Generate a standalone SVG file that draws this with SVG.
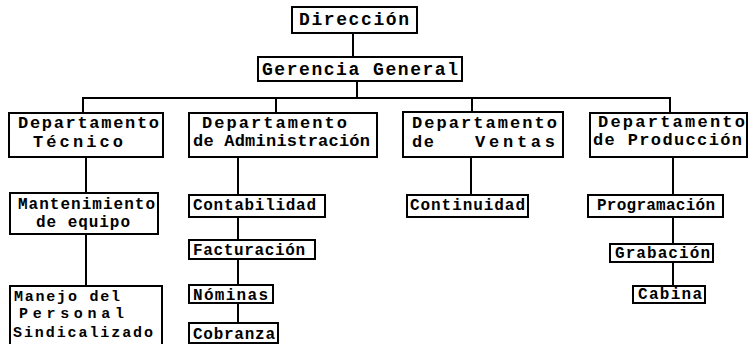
<svg xmlns="http://www.w3.org/2000/svg" width="749" height="344" viewBox="0 0 749 344">
<style>
rect{fill:#fff;stroke:#000;stroke-width:2}
.c line{stroke:#000;stroke-width:2}
text{font-family:"Liberation Mono","DejaVu Sans Mono",monospace;fill:#000;font-weight:bold}
.a{font-size:18px}
.d{font-size:17px}
.b{font-size:16px}
.e{font-size:15px}
</style>
<rect x="0" y="0" width="749" height="344" style="stroke:none"/>
<g class="c">
<line x1="353" y1="33" x2="353" y2="57"/>
<line x1="357" y1="81" x2="357" y2="98"/>
<line x1="82" y1="98" x2="671" y2="98"/>
<line x1="83" y1="98" x2="83" y2="113"/>
<line x1="276" y1="98" x2="276" y2="113"/>
<line x1="472" y1="98" x2="472" y2="112"/>
<line x1="670" y1="98" x2="670" y2="113"/>
<line x1="86" y1="157" x2="86" y2="193"/>
<line x1="86" y1="234" x2="86" y2="286"/>
<line x1="238" y1="157" x2="238" y2="195"/>
<line x1="238" y1="217" x2="238" y2="240"/>
<line x1="238" y1="259" x2="238" y2="285"/>
<line x1="238" y1="303" x2="238" y2="323"/>
<line x1="471" y1="157" x2="471" y2="195"/>
<line x1="673" y1="157" x2="673" y2="195"/>
<line x1="673" y1="217" x2="673" y2="244"/>
<line x1="673" y1="262" x2="673" y2="286"/>
</g>
<g id="direccion"><rect x="292" y="7" width="125" height="26"/><text class="a" x="299" y="25" textLength="110" lengthAdjust="spacing">Dirección</text></g>
<g id="gerencia"><rect x="258" y="57" width="204" height="24"/><text class="a" x="262" y="75" textLength="196" lengthAdjust="spacing">Gerencia General</text></g>
<g id="tecnico"><rect x="9" y="113" width="154" height="44"/><text class="d" x="18" y="128" textLength="141" lengthAdjust="spacing">Departamento</text><text class="d" x="33" y="147" textLength="90" lengthAdjust="spacing">Técnico</text></g>
<g id="admin"><rect x="189" y="113" width="188" height="44"/><text class="d" x="202" y="128" textLength="145" lengthAdjust="spacing">Departamento</text><text class="d" x="193" y="146" textLength="177" lengthAdjust="spacing">de Administración</text></g>
<g id="ventas"><rect x="403" y="112" width="160" height="45"/><text class="d" x="412" y="128" textLength="145" lengthAdjust="spacing">Departamento</text><text class="d" x="412" y="147" textLength="22" lengthAdjust="spacing">de</text><text class="d" x="475" y="147" textLength="80" lengthAdjust="spacing">Ventas</text></g>
<g id="produccion"><rect x="590" y="113" width="157" height="44"/><text class="d" x="598" y="127" textLength="147" lengthAdjust="spacing">Departamento</text><text class="d" x="593" y="145" textLength="149" lengthAdjust="spacing">de Producción</text></g>
<g id="mantenimiento"><rect x="10" y="193" width="148" height="41"/><text class="b" x="18" y="209" textLength="137" lengthAdjust="spacing">Mantenimiento</text><text class="b" x="36" y="227" textLength="94" lengthAdjust="spacing">de equipo</text></g>
<g id="manejo"><rect x="10" y="286" width="152" height="62"/><text class="e" x="14" y="301" textLength="106" lengthAdjust="spacing">Manejo del</text><text class="e" x="19" y="318" textLength="105" lengthAdjust="spacing">Personal</text><text class="e" x="13" y="337" textLength="140" lengthAdjust="spacing">Sindicalizado</text></g>
<g id="contabilidad"><rect x="189" y="195" width="136" height="22"/><text class="b" x="193" y="210" textLength="123" lengthAdjust="spacing">Contabilidad</text></g>
<g id="facturacion"><rect x="189" y="240" width="126" height="19"/><text class="b" x="193" y="255" textLength="112" lengthAdjust="spacing">Facturación</text></g>
<g id="nominas"><rect x="189" y="285" width="84" height="18"/><text class="b" x="193" y="300" textLength="75" lengthAdjust="spacing">Nóminas</text></g>
<g id="cobranza"><rect x="189" y="323" width="89" height="20"/><text class="b" x="193" y="339" textLength="82" lengthAdjust="spacing">Cobranza</text></g>
<g id="continuidad"><rect x="407" y="195" width="121" height="22"/><text class="b" x="410" y="210" textLength="115" lengthAdjust="spacing">Continuidad</text></g>
<g id="programacion"><rect x="588" y="195" width="135" height="22"/><text class="b" x="597" y="210" textLength="118" lengthAdjust="spacing">Programación</text></g>
<g id="grabacion"><rect x="610" y="244" width="103" height="18"/><text class="b" x="615" y="258" textLength="95" lengthAdjust="spacing">Grabación</text></g>
<g id="cabina"><rect x="633" y="286" width="72" height="17"/><text class="b" x="638" y="299" textLength="64" lengthAdjust="spacing">Cabina</text></g>
</svg>
